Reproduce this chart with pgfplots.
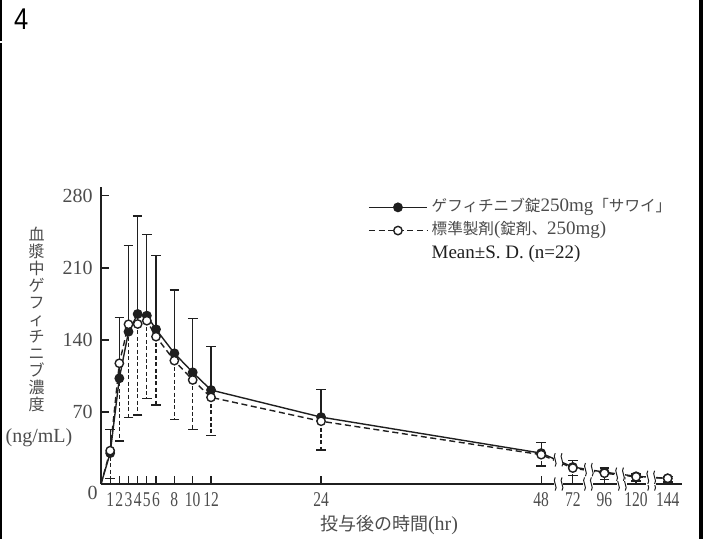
\documentclass[border=0pt]{standalone}
\usepackage{graphicx}
\usepackage{pgfplots}
\pgfplotsset{compat=1.18}
\usepackage{pgfplotstable}
\usepackage{fontspec}
\setmainfont{Liberation Serif}
\newfontfamily\cjk{Noto Sans CJK JP}
\newfontfamily\sansfont{Liberation Sans}
\definecolor{ink}{gray}{0.12}
\definecolor{txt}{gray}{0.30}
\newcommand\J[1]{{\cjk\fontsize{7.8}{9}\selectfont #1}}
\newcommand\cx[1]{\scalebox{0.74}[1]{#1}}
\newcommand\brk[2]{%
  \fill[white] (axis cs:#1,#2) ++(-2.4pt,-3.6pt) rectangle ++(4.8pt,7.2pt);
  \draw[ink, line width=0.5pt] (axis cs:#1,#2) ++(-1.7pt,-3.3pt) .. controls +(1.6pt,1.6pt) and +(-1.6pt,-1.6pt) .. ++(0pt,6.6pt);
  \draw[ink, line width=0.5pt] (axis cs:#1,#2) ++(1.7pt,-3.3pt) .. controls +(1.6pt,1.6pt) and +(-1.6pt,-1.6pt) .. ++(0pt,6.6pt);
}

% plot position x: hours up to 48, compressed (broken) scale beyond
\pgfplotstableread{
t   x      y      e
1   1      30     23
2   2      102.7  59
3   3      148    83.6
4   4      165.2  95.2
5   5      163.6  79
6   6      150.3  71.6
8   8      127    61.5
10  10     108.5  52
12  12     91.3   42
24  24     65     27
48  48     30     10.5
72  51.45  16.5   6.5
96  54.9   11.5   4
120 58.35  7.5    2.2
144 61.8   5.5    1.5
}\testtab

\pgfplotstableread{
t   x      y      e
1   1      32.4   27.4
2   2      117.3  75.5
3   3      155.2  90.4
4   4      155.5  88.5
5   5      158.7  76
6   6      143.2  66.4
8   8      119.9  57.4
10  10     101.1  48
12  12     84.2   37.2
24  24     61     28
48  48     28.5   11
72  51.45  15.5   7
96  54.9   10.5   6.5
120 58.35  7      4
144 61.8   5.5    3.5
}\reftab

\begin{document}
\begin{tikzpicture}
\path[use as bounding box] (0,0) rectangle (352pt,269.5pt);
% page frame
\fill[black] (0,0) rectangle (1.15pt,247.75pt);
\fill[black] (0,248.75pt) rectangle (1.15pt,269.5pt);
\fill[black] (349.5pt,0) rectangle (351.6pt,269.5pt);
\node[font=\sansfont\fontsize{15}{15}\selectfont] at (10.6pt,260pt) {\scalebox{0.85}[1]{4}};

\begin{axis}[
  at={(50.5pt,27.5pt)}, anchor=south west,
  x=4.585pt, y=0.5145pt,
  xmin=0, xmax=63.4, ymin=0, ymax=289,
  axis lines*=left,
  axis line style={ink, line width=0.6pt, -},
  every tick/.style={ink, line width=0.6pt},
  major tick length=4.2pt,
  tick align=inside,
  clip=false,
  xtick={1,2,3,4,5,6,8,10,12,24,48,51.45,54.9,58.35,61.8},
  xticklabels={\cx{1},\cx{2},\cx{3},\cx{4},\cx{5},\cx{6},\cx{8},\cx{10},\cx{12},\cx{24},\cx{48},\cx{72},\cx{96},\cx{120},\cx{144}},
  ytick={70,140,210,280},
  yticklabels={70,140,210,280},
  xticklabel style={font=\fontsize{10.5}{10.5}\selectfont, text=txt, inner sep=0pt, anchor=north, yshift=-4.2pt},
  yticklabel style={font=\fontsize{10}{10}\selectfont, text=txt, inner sep=0pt, anchor=east, xshift=-4pt},
  legend style={draw=none, fill=none, at={(axis cs:29.1,277)}, anchor=north west,
    inner sep=0pt, row sep=3.6pt, column sep=2pt, cells={anchor=west},
    nodes={inner sep=0pt, text height=6.2pt, text depth=1.8pt, text=txt},
    font=\fontsize{9.5}{11}\selectfont},
  legend image code/.code={\draw[mark repeat=2,mark phase=2,#1] plot coordinates {(0pt,0pt) (14.5pt,0pt) (29pt,0pt)};},
]
% connectors from the origin (no mark at time 0)
\addplot[ink, line width=0.7pt, forget plot] coordinates {(0,0) (1,30)};
\addplot[ink, line width=0.7pt, dash pattern=on 3pt off 1.8pt, forget plot] coordinates {(0,0) (1,32.4)};

\addplot[ink, line width=0.7pt, mark=*, mark size=2.1pt, mark options={solid, fill=ink},
  error bars/.cd, y dir=plus, y explicit,
  error bar style={line width=0.6pt, solid},
  error mark options={rotate=90, mark size=2.4pt, line width=0.6pt, solid}]
  table[x=x, y=y, y error=e] {\testtab};
\addlegendentry{\J{ゲフィチニブ錠}250mg\J{「サワイ」}}

\addplot[ink, line width=0.7pt, dash pattern=on 3pt off 1.8pt, mark=*, mark size=2.1pt, mark options={solid, fill=white},
  error bars/.cd, y dir=minus, y explicit,
  error bar style={line width=0.6pt, dash pattern=on 2pt off 1.2pt},
  error mark options={rotate=90, mark size=2.4pt, line width=0.6pt, solid}]
  table[x=x, y=y, y error=e] {\reftab};
\addlegendentry{\J{標準製剤}(\J{錠剤、}250mg)}

\addlegendimage{empty legend}
\addlegendentry{\textcolor{ink}{Mean±S.~D.~(n=22)}}

% axis breaks
\brk{49.9}{0} \brk{53.1}{0} \brk{56.8}{0} \brk{60.0}{0}
\brk{49.9}{23.5} \brk{53.2}{14} \brk{56.6}{9.5} \brk{60.0}{6.5}

\node[font=\fontsize{10}{10}\selectfont, text=txt] at (axis cs:0,0) [xshift=-4.25pt, yshift=-4.5pt] {0};
\end{axis}

% axis titles
\node[align=center, font=\cjk\fontsize{8}{8.5}\selectfont, text=txt, inner sep=0pt] at (18.35pt,110pt)
  {血\\漿\\中\\ゲ\\フ\\ィ\\チ\\ニ\\ブ\\濃\\度};
\node[font=\fontsize{10}{10}\selectfont, text=txt, inner sep=0pt] at (19.5pt,50.75pt) {(ng/mL)};
\node[font=\fontsize{10}{10}\selectfont, text=txt, inner sep=0pt] at (194.5pt,6.75pt)
  {{\cjk\fontsize{9}{9}\selectfont 投与後の時間}(hr)};
\end{tikzpicture}
\end{document}
